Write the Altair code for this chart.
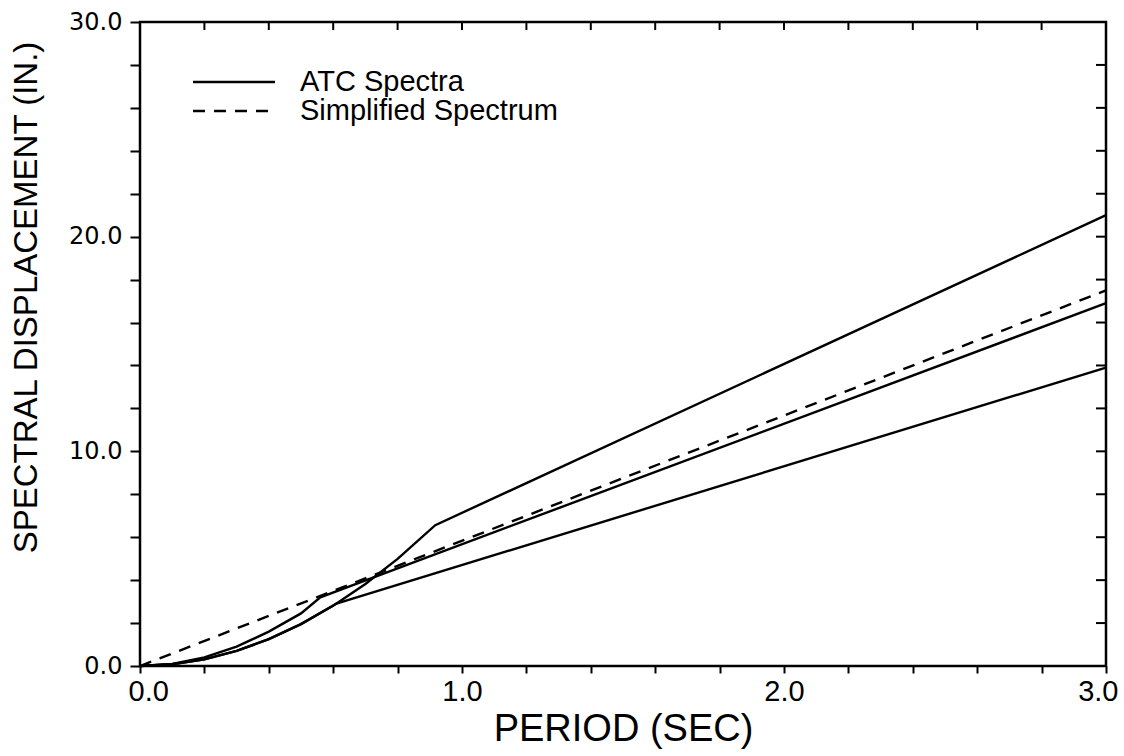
import altair as alt
import pandas as pd

# ---- data ----
atc_upper_T = [0.0, 0.1, 0.2, 0.3, 0.4, 0.5, 0.6, 0.7, 0.8, 0.917, 3.0]
atc_upper_Sd = [0.0, 0.08, 0.31, 0.70, 1.25, 1.95, 2.81, 3.82, 4.99, 6.56, 21.0]
atc_middle_T = [0.0, 0.1, 0.2, 0.3, 0.4, 0.5, 0.56, 3.0]
atc_middle_Sd = [0.0, 0.10, 0.40, 0.90, 1.60, 2.45, 3.20, 16.9]
atc_lower_T = [0.0, 0.1, 0.2, 0.3, 0.4, 0.5, 0.61, 3.0]
atc_lower_Sd = [0.0, 0.08, 0.31, 0.70, 1.25, 1.95, 2.91, 13.9]
simp_T = [0.0, 3.0]
simp_Sd = [0.0, 17.5]

x_ticks = [0.0, 0.2, 0.4, 0.6, 0.8, 1.0, 1.2, 1.4, 1.6, 1.8, 2.0, 2.2, 2.4, 2.6, 2.8, 3.0]
y_ticks = [0, 2, 4, 6, 8, 10, 12, 14, 16, 18, 20, 22, 24, 26, 28, 30]
legend_labels = ["ATC Spectra", "Simplified Spectrum"]

# ---- tables ----
rows = []
for name, ts, ss in [("upper", atc_upper_T, atc_upper_Sd),
                     ("middle", atc_middle_T, atc_middle_Sd),
                     ("lower", atc_lower_T, atc_lower_Sd)]:
    for i, (t, s) in enumerate(zip(ts, ss)):
        rows.append({"curve": name, "order": i, "T": t, "Sd": s})
atc_df = pd.DataFrame(rows)
simp_df = pd.DataFrame({"T": simp_T, "Sd": simp_Sd, "order": list(range(len(simp_T)))})
xt_df = pd.DataFrame({"t": x_ticks})
yt_df = pd.DataFrame({"t": y_ticks})

W, H = 966, 644
xs = alt.Scale(domain=[0, 3], nice=False, zero=False)
ys = alt.Scale(domain=[0, 30], nice=False, zero=False)

x_axis = alt.Axis(
    values=x_ticks,
    labelExpr="abs(datum.value - round(datum.value)) < 0.001 ? format(datum.value, '.1f') : ''",
    labelOverlap=False, labelFlush=True, labelFlushOffset=12,
    tickSize=7, tickWidth=2, tickColor="black",
    labelFont="Liberation Sans", labelFontSize=29,
    labelColor="black", labelPadding=4,
    title="PERIOD (SEC)", titleFont="Liberation Sans", titleFontSize=38,
    titleFontWeight="normal", titleColor="black", titleY=44,
    grid=False, domain=False,
)
y_axis = alt.Axis(
    values=y_ticks,
    labelExpr="datum.value % 10 === 0 ? format(datum.value, '.1f') : ''",
    labelOverlap=False, labelFlush=False,
    tickSize=10, tickWidth=2, tickColor="black",
    labelFont="DejaVu Sans", labelFontSize=24, labelColor="black", labelPadding=8,
    title="SPECTRAL DISPLACEMENT (IN.)", titleFont="Liberation Sans", titleFontSize=33,
    titleFontWeight="normal", titleColor="black",
    titleAngle=-90, titleAlign="center", titleBaseline="alphabetic",
    titleX=-104, titleY=275,
    grid=False, domain=False,
)

atc = alt.Chart(atc_df).mark_line(color="black", strokeWidth=2.4).encode(
    x=alt.X("T:Q", scale=xs, axis=x_axis),
    y=alt.Y("Sd:Q", scale=ys, axis=y_axis),
    detail="curve:N",
    order="order:Q",
)
simp = alt.Chart(simp_df).mark_line(color="black", strokeWidth=2.4, strokeDash=[12, 9]).encode(
    x=alt.X("T:Q", scale=xs),
    y=alt.Y("Sd:Q", scale=ys),
    order="order:Q",
)

# inward ticks on the top and right frame
top_ticks = alt.Chart(xt_df).mark_rule(color="black", strokeWidth=2).encode(
    x=alt.X("t:Q", scale=xs), y=alt.value(0), y2=alt.value(8)
)
right_ticks = alt.Chart(yt_df).mark_rule(color="black", strokeWidth=2).encode(
    y=alt.Y("t:Q", scale=ys), x=alt.value(W), x2=alt.value(W - 10)
)

# legend
leg_solid = alt.Chart(pd.DataFrame({"label": [legend_labels[0]]})).mark_rule(
    color="black", strokeWidth=2.4
).encode(x=alt.value(53), x2=alt.value(135), y=alt.value(60))
leg_dash = alt.Chart(pd.DataFrame({"label": [legend_labels[1]]})).mark_rule(
    color="black", strokeWidth=2.4, strokeDash=[12, 9]
).encode(x=alt.value(53), x2=alt.value(135), y=alt.value(89))
leg_t1 = alt.Chart(pd.DataFrame({"label": [legend_labels[0]]})).mark_text(
    align="left", baseline="middle", font="Liberation Sans", fontSize=29, color="black"
).encode(x=alt.value(160), y=alt.value(60), text="label:N")
leg_t2 = alt.Chart(pd.DataFrame({"label": [legend_labels[1]]})).mark_text(
    align="left", baseline="middle", font="Liberation Sans", fontSize=29, color="black"
).encode(x=alt.value(160), y=alt.value(89), text="label:N")

chart = alt.layer(
    atc, simp, top_ticks, right_ticks, leg_solid, leg_dash, leg_t1, leg_t2
).properties(
    width=W, height=H,
    autosize=alt.AutoSizeParams(type="none"),
    padding={"left": 140, "top": 22, "right": 18, "bottom": 90},
    background="white",
).configure_view(stroke="black", strokeWidth=2.5)

chart.save("out.html", embed_options={"renderer": "svg", "actions": False})
